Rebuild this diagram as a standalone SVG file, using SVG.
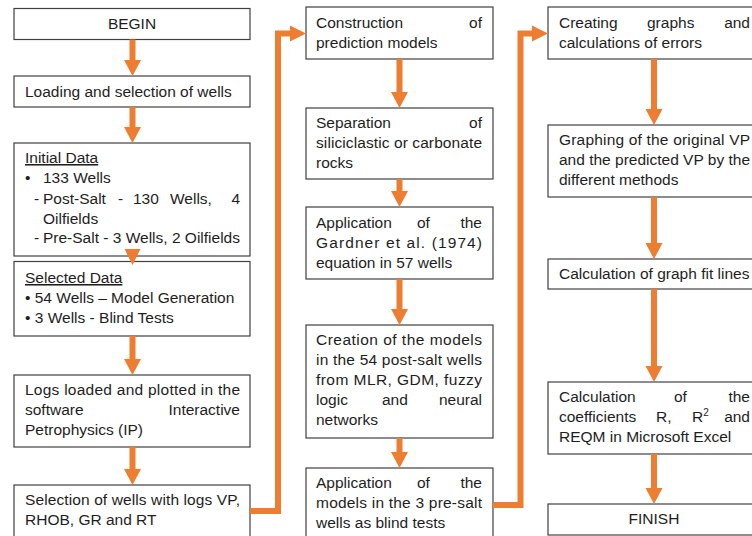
<svg xmlns="http://www.w3.org/2000/svg" width="752" height="536" viewBox="0 0 752 536">
<style>
.box{fill:#fff;stroke:#404040;stroke-width:1.2}
.t{font-family:"Liberation Sans",Arial,sans-serif;font-size:15.5px;fill:#1e1e1e}
.c{text-anchor:middle}
.e{text-anchor:end}
.u{text-decoration:underline}
.ln{fill:none;stroke:#ED7D31;stroke-width:6}
.hd{fill:#ED7D31}
</style>
<rect width="752" height="536" fill="#fff"/>
<g id="begin"><rect class="box" x="14" y="8.5" width="236" height="31"/><text class="t c" x="132" y="29">BEGIN</text></g>
<g id="loading"><rect class="box" x="14" y="76" width="236" height="31"/><text class="t" x="25" y="97">Loading and selection of wells</text></g>
<g id="initial"><rect class="box" x="14" y="143" width="236" height="113"/>
<text class="t u" x="25" y="163">Initial Data</text>
<text class="t" x="25" y="183">•</text><text class="t" x="43" y="183">133 Wells</text>
<text class="t" x="34" y="204">-</text><text class="t" x="43" y="204">Post-Salt</text><text class="t" x="118" y="204">-</text><text class="t" x="133" y="204">130</text><text class="t" x="170" y="204">Wells,</text><text class="t e" x="240" y="204">4</text>
<text class="t" x="43" y="224">Oilfields</text>
<text class="t" x="34" y="243">-</text><text class="t" x="43" y="243">Pre-Salt - 3 Wells, 2 Oilfields</text></g>
<g id="selected"><rect class="box" x="14" y="261.5" width="236" height="74.5"/>
<text class="t u" x="25" y="283">Selected Data</text>
<text class="t" x="25" y="303">• 54 Wells – Model Generation</text>
<text class="t" x="25" y="323">• 3 Wells - Blind Tests</text></g>
<g id="logs"><rect class="box" x="14" y="375" width="236" height="72"/>
<text class="t" x="25" y="395" textLength="215" lengthAdjust="spacing">Logs loaded and plotted in the</text>
<text class="t" x="25" y="415">software</text><text class="t e" x="240" y="415">Interactive</text>
<text class="t" x="25" y="435">Petrophysics (IP)</text></g>
<g id="selection"><rect class="box" x="14" y="485" width="236" height="60"/>
<text class="t" x="25" y="505" textLength="215" lengthAdjust="spacing">Selection of wells with logs VP,</text>
<text class="t" x="25" y="525">RHOB, GR and RT</text></g>

<g id="construction"><rect class="box" x="306" y="7" width="187" height="52"/>
<text class="t" x="316" y="28">Construction</text><text class="t e" x="482" y="28">of</text>
<text class="t" x="316" y="48">prediction models</text></g>
<g id="separation"><rect class="box" x="306" y="108" width="187" height="71"/>
<text class="t" x="316" y="128">Separation</text><text class="t e" x="482" y="128">of</text>
<text class="t" x="316" y="148" textLength="166" lengthAdjust="spacing">siliciclastic or carbonate</text>
<text class="t" x="316" y="168">rocks</text></g>
<g id="gardner"><rect class="box" x="306" y="207" width="187" height="72"/>
<text class="t" x="316" y="228">Application</text><text class="t" x="417" y="228">of</text><text class="t e" x="482" y="228">the</text>
<text class="t" x="316" y="248" textLength="166" lengthAdjust="spacing">Gardner et al. (1974)</text>
<text class="t" x="316" y="268">equation in 57 wells</text></g>
<g id="creation"><rect class="box" x="306" y="325" width="187" height="113"/>
<text class="t" x="316" y="345" textLength="166" lengthAdjust="spacing">Creation of the models</text>
<text class="t" x="316" y="365" textLength="166" lengthAdjust="spacing">in the 54 post-salt wells</text>
<text class="t" x="316" y="385" textLength="166" lengthAdjust="spacing">from MLR, GDM, fuzzy</text>
<text class="t" x="316" y="405">logic</text><text class="t" x="382" y="405">and</text><text class="t e" x="482" y="405">neural</text>
<text class="t" x="316" y="425">networks</text></g>
<g id="application"><rect class="box" x="306" y="468" width="187" height="80"/>
<text class="t" x="316" y="488">Application</text><text class="t" x="417" y="488">of</text><text class="t e" x="482" y="488">the</text>
<text class="t" x="316" y="508" textLength="166" lengthAdjust="spacing">models in the 3 pre-salt</text>
<text class="t" x="316" y="528">wells as blind tests</text></g>

<g id="creating"><rect class="box" x="548" y="7" width="220" height="52"/>
<text class="t" x="559" y="28">Creating</text><text class="t" x="647" y="28">graphs</text><text class="t e" x="750" y="28">and</text>
<text class="t" x="559" y="48">calculations of errors</text></g>
<g id="graphing"><rect class="box" x="548" y="125" width="220" height="72"/>
<text class="t" x="559" y="145" textLength="191" lengthAdjust="spacing">Graphing of the original VP</text>
<text class="t" x="559" y="165" textLength="191" lengthAdjust="spacing">and the predicted VP by the</text>
<text class="t" x="559" y="185">different methods</text></g>
<g id="fitlines"><rect class="box" x="548" y="259" width="220" height="30"/>
<text class="t" x="559" y="279">Calculation of graph fit lines</text></g>
<g id="coefficients"><rect class="box" x="548" y="382" width="220" height="72"/>
<text class="t" x="559" y="402">Calculation</text><text class="t" x="674" y="402">of</text><text class="t e" x="750" y="402">the</text>
<text class="t" x="559" y="422">coefficients</text><text class="t" x="656" y="422">R,</text><text class="t" x="692" y="422">R<tspan font-size="10" dy="-6">2</tspan></text><text class="t e" x="750" y="422">and</text>
<text class="t" x="559" y="442">REQM in Microsoft Excel</text></g>
<g id="finish"><rect class="box" x="548" y="504" width="220" height="31"/>
<text class="t c" x="654" y="524">FINISH</text></g>

<g id="connectors">
<line class="ln" x1="132.5" y1="39.5" x2="132.5" y2="61"/><polygon class="hd" points="124,60 141,60 132.5,76"/>
<line class="ln" x1="132.5" y1="107" x2="132.5" y2="128"/><polygon class="hd" points="124,127 141,127 132.5,143"/>
<polygon class="hd" points="124.5,249 140.5,249 132.5,265"/>
<line class="ln" x1="132.5" y1="336" x2="132.5" y2="360"/><polygon class="hd" points="124,359 141,359 132.5,375"/>
<line class="ln" x1="132.5" y1="447" x2="132.5" y2="470"/><polygon class="hd" points="124,469 141,469 132.5,485"/>

<line class="ln" x1="399.5" y1="59" x2="399.5" y2="93"/><polygon class="hd" points="391,92 408,92 399.5,108"/>
<line class="ln" x1="399.5" y1="179" x2="399.5" y2="192"/><polygon class="hd" points="391,191 408,191 399.5,207"/>
<line class="ln" x1="399.5" y1="279" x2="399.5" y2="310"/><polygon class="hd" points="391,309 408,309 399.5,325"/>
<line class="ln" x1="399.5" y1="438" x2="399.5" y2="453"/><polygon class="hd" points="391,452 408,452 399.5,468"/>

<line class="ln" x1="654" y1="59" x2="654" y2="110"/><polygon class="hd" points="645.5,109 662.5,109 654,125"/>
<line class="ln" x1="654" y1="197" x2="654" y2="244"/><polygon class="hd" points="645.5,243 662.5,243 654,259"/>
<line class="ln" x1="654" y1="289" x2="654" y2="367"/><polygon class="hd" points="645.5,366 662.5,366 654,382"/>
<line class="ln" x1="654" y1="454" x2="654" y2="489"/><polygon class="hd" points="645.5,488 662.5,488 654,504"/>

<polyline class="ln" points="250,511 278,511 278,33.5 291,33.5"/><polygon class="hd" points="290,25.5 306,33.5 290,41.5"/>
<polyline class="ln" points="493,505 520.5,505 520.5,33.5 533,33.5"/><polygon class="hd" points="532,25.5 548,33.5 532,41.5"/>
</g>
</svg>
